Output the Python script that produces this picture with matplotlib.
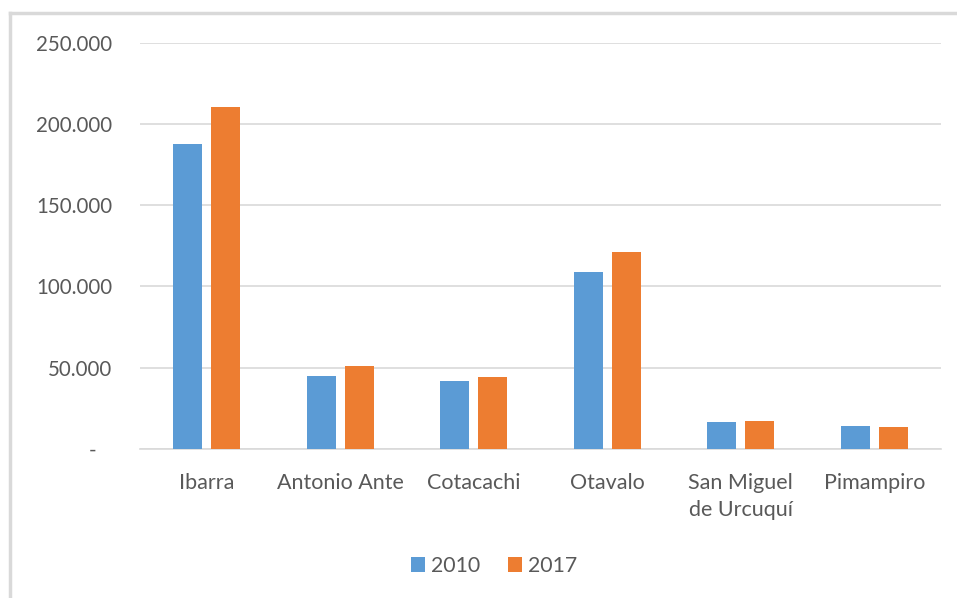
import numpy as np
import matplotlib
matplotlib.use("Agg")
import matplotlib.pyplot as plt
from matplotlib.lines import Line2D
from matplotlib.ticker import FuncFormatter

# Population per canton
cantones = ["Ibarra", "Antonio Ante", "Cotacachi", "Otavalo", "San Miguel\nde Urcuquí", "Pimampiro"]
pob_2010 = [187800, 44900, 41600, 108900, 16600, 14100]
pob_2017 = [210500, 51200, 44100, 121000, 17400, 13300]
series = ["2010", "2017"]
colores = ["#5B9BD5", "#ED7D31"]

plt.rcParams["font.family"] = ["Lato", "DejaVu Sans"]
gris = "#595959"

W, H = 957, 598
fig = plt.figure(figsize=(W / 100, H / 100), dpi=100)

# plot area in pixels: x 140..941, y 42.7..449
ax = fig.add_axes([140 / W, 1 - 449 / H, (941 - 140) / W, (449 - 42.7) / H])

# outer chart border (cropped at right/bottom)
borde = dict(transform=fig.transFigure, color="#d9d9d9", linewidth=2.5)
fig.lines.append(Line2D([10 / W, 1.05], [1 - 13 / H] * 2, **borde))
fig.lines.append(Line2D([10 / W] * 2, [-0.05, 1 - 13 / H], **borde))

x = np.arange(len(cantones))
ancho = 0.22
desp = 0.142
ax.bar(x - desp, pob_2010, ancho, color=colores[0], label=series[0], zorder=3)
ax.bar(x + desp, pob_2017, ancho, color=colores[1], label=series[1], zorder=3)

ax.set_xlim(-0.5, len(cantones) - 0.5)
ax.set_ylim(0, 250000)
ax.set_yticks(np.arange(0, 250001, 50000))


def fmt(v, pos):
    # accounting style: zero shown as a dash
    if v == 0:
        return "-   "
    return f"{int(v):,}".replace(",", ".")


ax.yaxis.set_major_formatter(FuncFormatter(fmt))
ax.yaxis.grid(True, color="#d9d9d9", linewidth=1.2, zorder=0)
ax.set_axisbelow(True)
for s in ["top", "right", "left"]:
    ax.spines[s].set_visible(False)
ax.spines["bottom"].set_color("#d9d9d9")
ax.spines["bottom"].set_linewidth(1.2)

ax.set_xticks(x)
ax.set_xticklabels(cantones, color=gris, fontsize=15.5, linespacing=1.45)
ax.tick_params(axis="x", length=0, pad=17)
ax.tick_params(axis="y", length=0, pad=20, labelcolor=gris, labelsize=14.8)

fig.legend(loc="center", bbox_to_anchor=(494 / W, 1 - 566 / H), ncol=2,
           frameon=False, fontsize=15.3, labelcolor=gris, handlelength=0.65,
           handleheight=0.65, handletextpad=0.3, columnspacing=1.3)

fig.savefig("out.png", dpi=100)
